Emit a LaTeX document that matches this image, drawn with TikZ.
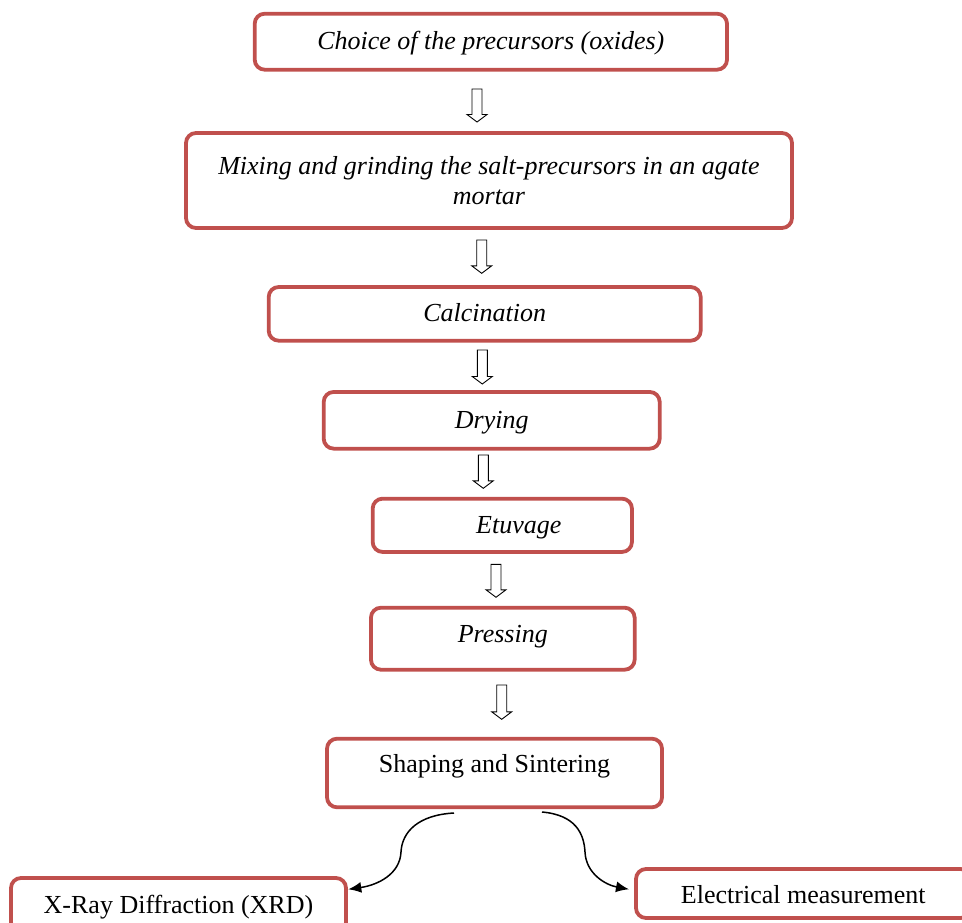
\documentclass[tikz,border=0pt]{standalone}
\usepackage{fontspec}
\setmainfont{Liberation Serif}
\usetikzlibrary{arrows.meta}
\definecolor{boxred}{HTML}{C0504D}
\newcommand\blkarrow[3]{%
  \draw[line width=0.9pt,fill=white] (#1-5,#2) -- (#1+5,#2) -- (#1+5,#3-7.5) -- (#1+10,#3-7.5) -- (#1,#3) -- (#1-10,#3-7.5) -- (#1-5,#3-7.5) -- cycle;}
\begin{document}
\begin{tikzpicture}[x=1pt,y=-1pt,
  stepbox/.style={draw=boxred,line width=3.8pt,rounded corners=10pt,inner sep=0pt,
    font=\fontsize{26}{30}\selectfont\itshape,text height=19pt,text depth=3pt,align=center},
  plainbox/.style={stepbox,font=\fontsize{26}{30}\selectfont},
  curvearrow/.style={line width=1.5pt,-{Latex[length=13pt,width=11pt]}}]
\useasboundingbox (0,0) rectangle (962,923);
\node[stepbox,minimum width=472.3pt,minimum height=56pt] (choice) at (490.85,41.7) {Choice of the precursors (oxides)};
\node[stepbox,minimum width=606pt,minimum height=95pt,text height=,text depth=] (mix) at (489,180.5) {Mixing and grinding the salt-precursors in an agate\\mortar};
\node[stepbox,minimum width=432pt,minimum height=53.7pt] (calc) at (484.7,313.85) {Calcination};
\node[stepbox,minimum width=336pt,minimum height=56.7pt] (dry) at (491.7,420.3) {Drying};
\node[stepbox,minimum width=259.3pt,minimum height=53.3pt] (etuv) at (502.3,525.3) {\hspace*{33pt}Etuvage};
\node[stepbox,minimum width=263.7pt,minimum height=62pt,text height=14pt,text depth=6pt] (press) at (502.8,638.7) {Pressing};
\node[plainbox,minimum width=335pt,minimum height=68.6pt,text height=10pt,text depth=12pt] (shape) at (494.5,773) {Shaping and Sintering};
\node[plainbox,minimum width=335pt,minimum height=54.6pt] (xrd) at (178.5,905.3) {X-Ray Diffraction (XRD)};
\node[plainbox,minimum width=334.6pt,minimum height=49pt,text height=19pt,text depth=0pt] (elec) at (803.3,893.5) {Electrical measurement};
\blkarrow{477}{89}{122}
\blkarrow{481.7}{240}{273.3}
\blkarrow{482.3}{350}{384}
\blkarrow{483.3}{455}{488.3}
\blkarrow{496}{564.3}{597.3}
\blkarrow{501.7}{685}{719.3}
\coordinate (sl) at (454,813);
\coordinate (sr) at (542,812);
\coordinate (xrdin) at (348.3,889.3);
\coordinate (elin) at (629,889.3);
\draw[curvearrow] (sl) .. controls (418,815) and (402,832) .. (401,852) .. controls (400,874) and (378,885) .. (xrdin);
\draw[curvearrow] (sr) .. controls (576,815) and (584,834) .. (585,852) .. controls (586,874) and (606,885) .. (elin);
\end{tikzpicture}
\end{document}
